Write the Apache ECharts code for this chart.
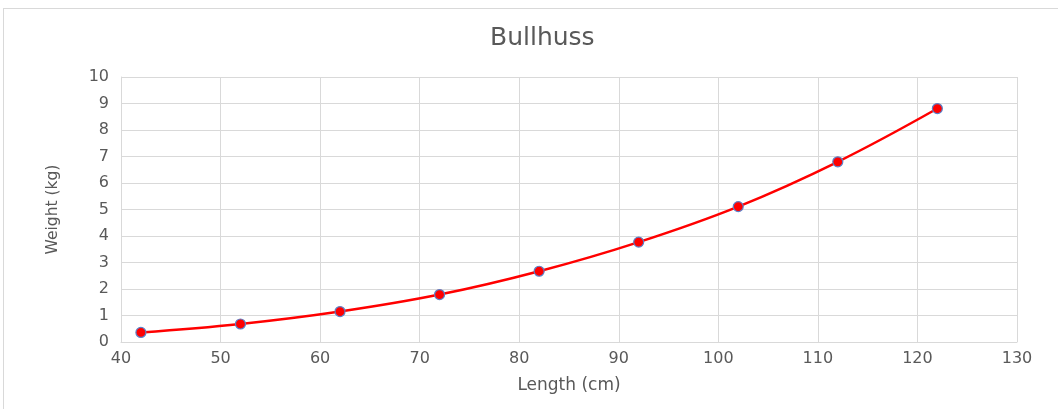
<!DOCTYPE html>
<html><head><meta charset="utf-8">
<script src="https://cdn.jsdelivr.net/npm/echarts@6/dist/echarts.min.js"></script>
<style>
html,body{margin:0;padding:0;background:#fff;}
#frame{position:absolute;left:3px;top:8px;width:1060px;height:410px;border:1px solid #d9d9d9;box-sizing:border-box;}
#c{position:absolute;left:0;top:0;width:1058px;height:409px;}
</style></head>
<body>
<div id="frame"></div>
<div id="c"></div>
<script>
const lengths = [42, 52, 62, 72, 82, 92, 102, 112, 122];
const weights = [0.36, 0.68, 1.15, 1.79, 2.67, 3.77, 5.11, 6.80, 8.81];
const title = 'Bullhuss';
const xName = 'Length (cm)';
const yName = 'Weight (kg)';

const chart = echarts.init(document.getElementById('c'), null, {renderer:'canvas'});
const txt = '#595959';
const font = 'DejaVu Sans, Verdana, sans-serif';
chart.setOption({
  backgroundColor: 'transparent',
  animation: false,
  title: {text: title, left: 485, top: 21, textStyle: {color: txt, fontSize: 25, fontWeight: 'normal', fontFamily: font}},
  grid: {left: 121, right: 41, top: 77, bottom: 67},
  xAxis: {
    type: 'value', min: 40, max: 130, interval: 10,
    name: xName, nameLocation: 'middle', nameGap: 35,
    nameTextStyle: {color: txt, fontSize: 17, fontFamily: font},
    axisLine: {lineStyle: {color: '#d9d9d9', width: 1}},
    axisTick: {show: false},
    axisLabel: {color: txt, fontSize: 16, fontFamily: font, margin: 9},
    splitLine: {show: true, lineStyle: {color: '#d9d9d9', width: 1}}
  },
  yAxis: {
    type: 'value', min: 0, max: 10, interval: 1,
    name: yName, nameLocation: 'middle', nameGap: 60, nameRotate: 90,
    nameTextStyle: {color: txt, fontSize: 15.5, fontFamily: font},
    axisLine: {show: true, lineStyle: {color: '#d9d9d9', width: 1}},
    axisTick: {show: false},
    axisLabel: {color: txt, fontSize: 16, fontFamily: font, margin: 12},
    splitLine: {show: true, lineStyle: {color: '#d9d9d9', width: 1}}
  },
  series: [{
    type: 'line',
    data: lengths.map((x, i) => [x, weights[i]]),
    smooth: 0.4,
    symbol: 'circle', symbolSize: 10,
    lineStyle: {color: '#ff0000', width: 2.5},
    itemStyle: {color: '#ff0000', borderColor: '#5b80c8', borderWidth: 1.2}
  }]
});
</script>
</body></html>
